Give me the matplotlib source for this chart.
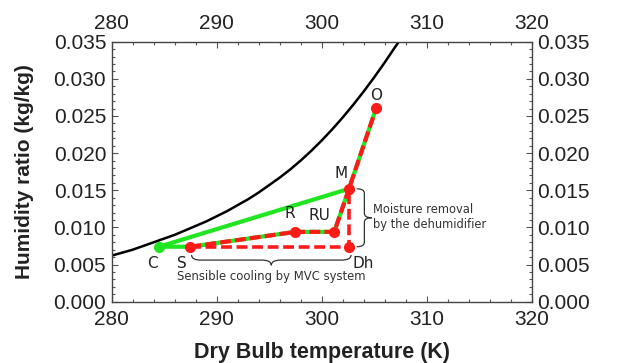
import numpy as np
import matplotlib
matplotlib.use("Agg")
import matplotlib.pyplot as plt
from matplotlib.path import Path
from matplotlib.patches import PathPatch
from matplotlib.ticker import MultipleLocator, FormatStrFormatter

# saturation curve
sat_T = [280, 281, 282, 283, 284, 285, 286, 287, 288, 289, 290, 291, 292, 293, 294,
         295, 296, 297, 298, 299, 300, 301, 302, 303, 304, 305, 306, 307, 307.35]
sat_w = [0.0062, 0.0066, 0.0070, 0.0075, 0.0080, 0.0085, 0.0090, 0.0096, 0.0102, 0.0108,
         0.0115, 0.0122, 0.0130, 0.0138, 0.0147, 0.0157, 0.0167, 0.0178, 0.0190, 0.0203,
         0.0217, 0.0232, 0.0248, 0.0265, 0.0283, 0.0302, 0.0322, 0.0343, 0.0350]

# state points
names = ["O", "M", "RU", "R", "S", "C", "Dh"]
temps = [305.2, 302.6, 301.2, 297.5, 287.5, 284.5, 302.6]
hums = [0.0261, 0.0152, 0.0094, 0.0094, 0.0074, 0.0074, 0.0074]
pt = {n: (t, h) for n, t, h in zip(names, temps, hums)}

green_path = ["C", "S", "R", "RU", "M", "O"]
green_mix = ["C", "M"]
red_path = ["S", "R", "RU", "M", "O"]
red_dh = ["S", "Dh", "M"]

GREEN = "#1fe61f"
RED = "#ff1a1a"
TXT = "#222222"


def xy(seq):
    return [pt[s][0] for s in seq], [pt[s][1] for s in seq]


def brace_h(ax, x0, x1, y, d, q):
    """curly brace below a span"""
    xm = (x0 + x1) / 2
    verts = [(x0, y), (x0, y - d / 2), (x0 + q, y - d / 2),
             (xm - q, y - d / 2), (xm, y - d / 2), (xm, y - d),
             (xm, y - d / 2), (xm + q, y - d / 2),
             (x1 - q, y - d / 2), (x1, y - d / 2), (x1, y)]
    codes = [Path.MOVETO, Path.CURVE3, Path.CURVE3,
             Path.LINETO, Path.CURVE3, Path.CURVE3,
             Path.CURVE3, Path.CURVE3,
             Path.LINETO, Path.CURVE3, Path.CURVE3]
    ax.add_patch(PathPatch(Path(verts, codes), fill=False, lw=0.9, color="#333333"))


def brace_v(ax, y0, y1, x, d, q):
    """curly brace to the right of a span"""
    ym = (y0 + y1) / 2
    verts = [(x, y0), (x + d / 2, y0), (x + d / 2, y0 + q),
             (x + d / 2, ym - q), (x + d / 2, ym), (x + d, ym),
             (x + d / 2, ym), (x + d / 2, ym + q),
             (x + d / 2, y1 - q), (x + d / 2, y1), (x, y1)]
    codes = [Path.MOVETO, Path.CURVE3, Path.CURVE3,
             Path.LINETO, Path.CURVE3, Path.CURVE3,
             Path.CURVE3, Path.CURVE3,
             Path.LINETO, Path.CURVE3, Path.CURVE3]
    ax.add_patch(PathPatch(Path(verts, codes), fill=False, lw=0.9, color="#333333"))


fig = plt.figure(figsize=(6.23, 3.63), dpi=100)
ax = fig.add_axes([0.1793, 0.1689, 0.6741, 0.7162])

ax.plot(sat_T, sat_w, color="black", lw=1.8, zorder=2)

# green process lines (solid)
gx, gy = xy(green_path)
ax.plot(gx, gy, color=GREEN, lw=3, zorder=3, solid_capstyle="round")
gx, gy = xy(green_mix)
ax.plot(gx, gy, color=GREEN, lw=3, zorder=3, solid_capstyle="round")

# red dashed lines
rx, ry = xy(red_path)
ax.plot(rx, ry, color=RED, lw=3, ls=(0, (2.6, 1.0)), zorder=4)
rx, ry = xy(red_dh)
ax.plot(rx, ry, color=RED, lw=2.6, ls=(0, (3, 1.3)), zorder=4)

# markers
for n in names:
    c = GREEN if n == "C" else RED
    ax.plot(*pt[n], "o", color=c, ms=7, zorder=5)

offsets = {"O": (0, 9), "M": (-6, 11), "RU": (-11, 12), "R": (-4, 13),
           "S": (-6, -12), "C": (-5, -12), "Dh": (10, -12)}
for n in names:
    ax.annotate(n, pt[n], xytext=offsets[n], textcoords="offset points",
                ha="center", va="center", fontsize=11, color=TXT,
                family="DejaVu Sans")

# braces + notes
brace_h(ax, 287.6, 302.8, 0.0063, 0.0014, 0.9)
ax.text(295.2, 0.0034, "Sensible cooling by MVC system",
        ha="center", va="center", fontsize=8.4, color="#333333", family="DejaVu Sans")
brace_v(ax, pt["Dh"][1], pt["M"][1], pt["M"][0] + 0.75, 1.43, 0.0006)
ax.text(304.9, 0.0114, "Moisture removal\nby the dehumidifier", ha="left", va="center",
        fontsize=8.3, color="#333333", family="DejaVu Sans", linespacing=1.2)

ax.set_xlim(280, 320)
ax.set_ylim(0, 0.035)
ax.xaxis.set_major_locator(MultipleLocator(10))
ax.xaxis.set_minor_locator(MultipleLocator(2))
ax.yaxis.set_major_locator(MultipleLocator(0.005))
ax.yaxis.set_minor_locator(MultipleLocator(0.001))
ax.yaxis.set_major_formatter(FormatStrFormatter("%.3f"))
ax.tick_params(which="both", direction="in", top=True, right=True,
               labeltop=True, labelright=True, color="#555555",
               labelsize=15, labelcolor=TXT)
ax.tick_params(axis="x", which="major", pad=6)
ax.tick_params(axis="y", which="major", pad=4)
ax.tick_params(which="major", length=4, width=0.8)
ax.tick_params(which="minor", length=2.5, width=0.8)
for lab in ax.get_xticklabels() + ax.get_yticklabels():
    lab.set_family("Liberation Sans")
for s in ax.spines.values():
    s.set_color("#444444")
    s.set_linewidth(1.0)

ax.set_xlabel("Dry Bulb temperature (K)", fontsize=15.5, fontweight="bold",
              family="Liberation Sans", color=TXT, labelpad=9)
ax.set_ylabel("Humidity ratio (kg/kg)", fontsize=15, fontweight="bold",
              family="Liberation Sans", color=TXT, labelpad=14)

fig.savefig("out.png", dpi=100)
